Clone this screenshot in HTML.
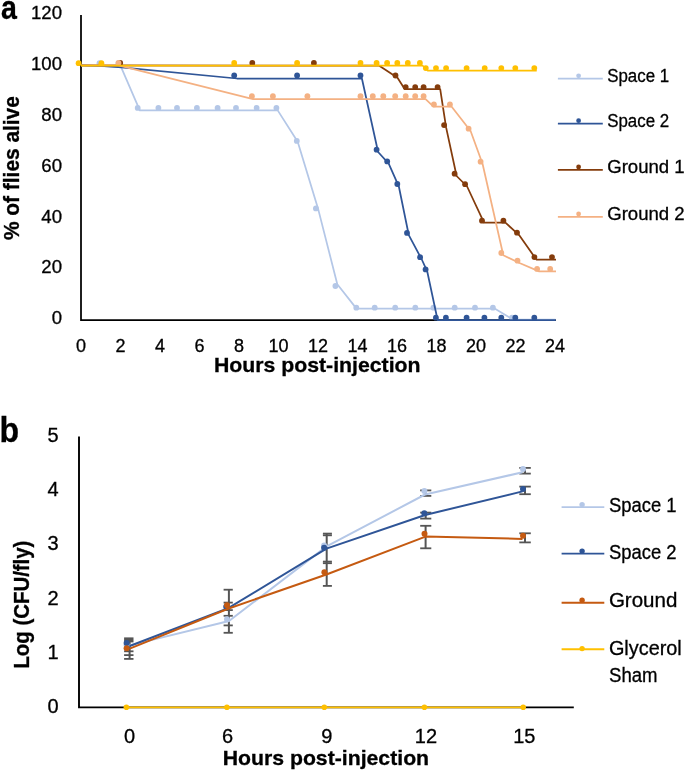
<!DOCTYPE html><html><head><meta charset="utf-8"><style>html,body{margin:0;padding:0;background:#fff;}svg{display:block;will-change:transform;}text{font-family:"Liberation Sans",sans-serif;fill:#000;stroke:#000;stroke-width:0.3px;font-variant-ligatures:none;}</style></head><body>
<svg width="685" height="770" viewBox="0 0 685 770">
<rect width="685" height="770" fill="#fff"/>
<text transform="translate(1,18.8) scale(0.88,1)" x="0" y="0" font-size="32.5" font-weight="bold">a</text>
<path d="M81,15 V320 H556" fill="none" stroke="#000" stroke-width="1.75"/>
<text x="62" y="19.1" font-size="18" text-anchor="end" textLength="31.0" lengthAdjust="spacingAndGlyphs">120</text>
<text x="62" y="70.0" font-size="18" text-anchor="end" textLength="31.0" lengthAdjust="spacingAndGlyphs">100</text>
<text x="62" y="120.9" font-size="18" text-anchor="end" textLength="20.7" lengthAdjust="spacingAndGlyphs">80</text>
<text x="62" y="171.7" font-size="18" text-anchor="end" textLength="20.7" lengthAdjust="spacingAndGlyphs">60</text>
<text x="62" y="222.6" font-size="18" text-anchor="end" textLength="20.7" lengthAdjust="spacingAndGlyphs">40</text>
<text x="62" y="273.4" font-size="18" text-anchor="end" textLength="20.7" lengthAdjust="spacingAndGlyphs">20</text>
<text x="62" y="324.3" font-size="18" text-anchor="end" textLength="10.3" lengthAdjust="spacingAndGlyphs">0</text>
<text x="81.0" y="351.8" font-size="18" text-anchor="middle">0</text>
<text x="120.5" y="351.8" font-size="18" text-anchor="middle">2</text>
<text x="160.0" y="351.8" font-size="18" text-anchor="middle">4</text>
<text x="199.5" y="351.8" font-size="18" text-anchor="middle">6</text>
<text x="239.0" y="351.8" font-size="18" text-anchor="middle">8</text>
<text x="278.5" y="351.8" font-size="18" text-anchor="middle">10</text>
<text x="318.0" y="351.8" font-size="18" text-anchor="middle">12</text>
<text x="357.5" y="351.8" font-size="18" text-anchor="middle">14</text>
<text x="397.0" y="351.8" font-size="18" text-anchor="middle">16</text>
<text x="436.5" y="351.8" font-size="18" text-anchor="middle">18</text>
<text x="476.0" y="351.8" font-size="18" text-anchor="middle">20</text>
<text x="515.5" y="351.8" font-size="18" text-anchor="middle">22</text>
<text x="555.0" y="351.8" font-size="18" text-anchor="middle">24</text>
<text x="214" y="372.1" font-size="21" font-weight="bold" textLength="206.5" lengthAdjust="spacingAndGlyphs">Hours post-injection</text>
<text transform="translate(18.9,240) rotate(-90) scale(1,1.07)" x="0" y="0" font-size="21" font-weight="bold" textLength="143.8" lengthAdjust="spacingAndGlyphs">% of flies alive</text>
<path d="M81.0,65.4 L121.0,66.8 L139.8,110.4 L277.7,110.4 L297.7,141.8 L318.0,208.4 L337.3,284.2 L356.5,308.6 L494.6,308.6 L513.0,319.6 L555.5,319.6" fill="none" stroke="#B4C7E7" stroke-width="1.75" stroke-linejoin="round"/>
<circle cx="99.5" cy="63.2" r="2.9" fill="#B4C7E7"/>
<circle cx="118.5" cy="63.2" r="2.9" fill="#B4C7E7"/>
<circle cx="137.7" cy="107.9" r="2.9" fill="#B4C7E7"/>
<circle cx="158.4" cy="107.9" r="2.9" fill="#B4C7E7"/>
<circle cx="177.0" cy="107.9" r="2.9" fill="#B4C7E7"/>
<circle cx="196.9" cy="107.9" r="2.9" fill="#B4C7E7"/>
<circle cx="217.6" cy="107.9" r="2.9" fill="#B4C7E7"/>
<circle cx="236.0" cy="107.9" r="2.9" fill="#B4C7E7"/>
<circle cx="256.6" cy="107.9" r="2.9" fill="#B4C7E7"/>
<circle cx="276.4" cy="107.9" r="2.9" fill="#B4C7E7"/>
<circle cx="296.8" cy="140.9" r="2.9" fill="#B4C7E7"/>
<circle cx="315.9" cy="208.4" r="2.9" fill="#B4C7E7"/>
<circle cx="335.4" cy="286.0" r="2.9" fill="#B4C7E7"/>
<circle cx="356.3" cy="307.7" r="2.9" fill="#B4C7E7"/>
<circle cx="374.7" cy="307.7" r="2.9" fill="#B4C7E7"/>
<circle cx="395.2" cy="307.7" r="2.9" fill="#B4C7E7"/>
<circle cx="415.3" cy="307.7" r="2.9" fill="#B4C7E7"/>
<circle cx="433.4" cy="307.7" r="2.9" fill="#B4C7E7"/>
<circle cx="454.7" cy="307.7" r="2.9" fill="#B4C7E7"/>
<circle cx="475.0" cy="307.7" r="2.9" fill="#B4C7E7"/>
<circle cx="492.9" cy="307.7" r="2.9" fill="#B4C7E7"/>
<circle cx="512.0" cy="317.7" r="2.9" fill="#B4C7E7"/>
<path d="M81.0,65.4 L101.0,65.9 L121.5,67.4 L236.9,78.5 L361.9,78.5 L378.1,152.0 L388.7,163.7 L398.8,186.3 L408.8,235.2 L421.8,259.5 L427.3,271.7 L437.6,320.0 L555.7,320.0" fill="none" stroke="#2F5597" stroke-width="1.75" stroke-linejoin="round"/>
<circle cx="234.2" cy="75.5" r="2.9" fill="#2F5597"/>
<circle cx="297.1" cy="75.5" r="2.9" fill="#2F5597"/>
<circle cx="360.5" cy="75.5" r="2.9" fill="#2F5597"/>
<circle cx="376.6" cy="149.7" r="2.9" fill="#2F5597"/>
<circle cx="387.2" cy="161.4" r="2.9" fill="#2F5597"/>
<circle cx="397.3" cy="184.0" r="2.9" fill="#2F5597"/>
<circle cx="407.0" cy="232.9" r="2.9" fill="#2F5597"/>
<circle cx="420.1" cy="257.2" r="2.9" fill="#2F5597"/>
<circle cx="425.6" cy="269.4" r="2.9" fill="#2F5597"/>
<circle cx="435.9" cy="317.7" r="2.9" fill="#2F5597"/>
<circle cx="445.9" cy="317.7" r="2.9" fill="#2F5597"/>
<circle cx="466.6" cy="317.7" r="2.9" fill="#2F5597"/>
<circle cx="484.4" cy="317.7" r="2.9" fill="#2F5597"/>
<circle cx="501.3" cy="317.7" r="2.9" fill="#2F5597"/>
<circle cx="515.3" cy="317.7" r="2.9" fill="#2F5597"/>
<circle cx="534.3" cy="317.7" r="2.9" fill="#2F5597"/>
<path d="M81.0,65.4 L378.9,65.6 L397.5,77.8 L404.8,89.2 L440.2,89.2 L446.1,127.4 L456.6,176.0 L467.1,186.5 L484.0,222.6 L505.4,222.6 L519.1,235.1 L536.4,259.6 L556.0,259.6" fill="none" stroke="#843C0C" stroke-width="1.75" stroke-linejoin="round"/>
<circle cx="120.2" cy="63.0" r="2.9" fill="#843C0C"/>
<circle cx="252.3" cy="62.9" r="2.9" fill="#843C0C"/>
<circle cx="313.9" cy="62.9" r="2.9" fill="#843C0C"/>
<circle cx="395.5" cy="75.5" r="2.9" fill="#843C0C"/>
<circle cx="405.7" cy="87.1" r="2.9" fill="#843C0C"/>
<circle cx="415.2" cy="87.1" r="2.9" fill="#843C0C"/>
<circle cx="423.6" cy="87.1" r="2.9" fill="#843C0C"/>
<circle cx="437.6" cy="87.1" r="2.9" fill="#843C0C"/>
<circle cx="444.1" cy="125.1" r="2.9" fill="#843C0C"/>
<circle cx="454.6" cy="173.7" r="2.9" fill="#843C0C"/>
<circle cx="465.1" cy="184.2" r="2.9" fill="#843C0C"/>
<circle cx="482.0" cy="220.7" r="2.9" fill="#843C0C"/>
<circle cx="503.4" cy="220.7" r="2.9" fill="#843C0C"/>
<circle cx="517.0" cy="232.7" r="2.9" fill="#843C0C"/>
<circle cx="534.4" cy="257.1" r="2.9" fill="#843C0C"/>
<circle cx="552.0" cy="257.1" r="2.9" fill="#843C0C"/>
<path d="M81.0,65.4 L118.5,65.4 L253.1,99.1 L425.6,99.1 L433.5,106.7 L451.7,106.7 L470.6,131.0 L482.6,164.0 L503.3,255.3 L519.5,263.0 L539.1,271.4 L556.0,271.4" fill="none" stroke="#F4B183" stroke-width="1.75" stroke-linejoin="round"/>
<circle cx="118.5" cy="63.0" r="2.9" fill="#F4B183"/>
<circle cx="251.9" cy="96.2" r="2.9" fill="#F4B183"/>
<circle cx="272.9" cy="96.2" r="2.9" fill="#F4B183"/>
<circle cx="307.4" cy="96.2" r="2.9" fill="#F4B183"/>
<circle cx="360.5" cy="96.2" r="2.9" fill="#F4B183"/>
<circle cx="372.8" cy="96.2" r="2.9" fill="#F4B183"/>
<circle cx="383.3" cy="96.2" r="2.9" fill="#F4B183"/>
<circle cx="395.2" cy="96.2" r="2.9" fill="#F4B183"/>
<circle cx="405.7" cy="96.2" r="2.9" fill="#F4B183"/>
<circle cx="415.2" cy="96.2" r="2.9" fill="#F4B183"/>
<circle cx="423.6" cy="96.2" r="2.9" fill="#F4B183"/>
<circle cx="433.9" cy="104.4" r="2.9" fill="#F4B183"/>
<circle cx="449.9" cy="104.4" r="2.9" fill="#F4B183"/>
<circle cx="468.6" cy="128.7" r="2.9" fill="#F4B183"/>
<circle cx="480.6" cy="161.7" r="2.9" fill="#F4B183"/>
<circle cx="501.3" cy="253.0" r="2.9" fill="#F4B183"/>
<circle cx="517.5" cy="260.7" r="2.9" fill="#F4B183"/>
<circle cx="537.1" cy="268.9" r="2.9" fill="#F4B183"/>
<circle cx="550.2" cy="268.9" r="2.9" fill="#F4B183"/>
<path d="M81.0,65.5 L422.5,65.5 L427.8,70.7 L536.7,70.7" fill="none" stroke="#FFC000" stroke-width="1.75" stroke-linejoin="round"/>
<circle cx="78.6" cy="63.2" r="2.9" fill="#FFC000"/>
<circle cx="101.4" cy="63.2" r="2.9" fill="#FFC000"/>
<circle cx="234.2" cy="62.9" r="2.9" fill="#FFC000"/>
<circle cx="297.1" cy="62.9" r="2.9" fill="#FFC000"/>
<circle cx="360.5" cy="62.9" r="2.9" fill="#FFC000"/>
<circle cx="376.6" cy="62.9" r="2.9" fill="#FFC000"/>
<circle cx="387.1" cy="62.9" r="2.9" fill="#FFC000"/>
<circle cx="397.3" cy="62.9" r="2.9" fill="#FFC000"/>
<circle cx="407.8" cy="62.9" r="2.9" fill="#FFC000"/>
<circle cx="419.9" cy="62.9" r="2.9" fill="#FFC000"/>
<circle cx="425.8" cy="68.1" r="2.9" fill="#FFC000"/>
<circle cx="436.0" cy="68.1" r="2.9" fill="#FFC000"/>
<circle cx="446.1" cy="68.1" r="2.9" fill="#FFC000"/>
<circle cx="466.6" cy="68.1" r="2.9" fill="#FFC000"/>
<circle cx="484.7" cy="68.1" r="2.9" fill="#FFC000"/>
<circle cx="501.3" cy="68.1" r="2.9" fill="#FFC000"/>
<circle cx="515.3" cy="68.1" r="2.9" fill="#FFC000"/>
<circle cx="534.3" cy="68.1" r="2.9" fill="#FFC000"/>
<path d="M557.9,78.7 H602.8" stroke="#B4C7E7" stroke-width="1.75"/>
<circle cx="578.6" cy="75.8" r="2.4" fill="#B4C7E7"/>
<text x="607.2" y="81.6" font-size="18" textLength="62" lengthAdjust="spacingAndGlyphs">Space 1</text>
<path d="M557.9,123.6 H602.8" stroke="#2F5597" stroke-width="1.75"/>
<circle cx="578.6" cy="120.7" r="2.4" fill="#2F5597"/>
<text x="607.2" y="126.5" font-size="18" textLength="62" lengthAdjust="spacingAndGlyphs">Space 2</text>
<path d="M557.9,169.9 H602.8" stroke="#843C0C" stroke-width="1.75"/>
<circle cx="578.6" cy="167.0" r="2.4" fill="#843C0C"/>
<text x="607.2" y="172.8" font-size="18" textLength="77.5" lengthAdjust="spacingAndGlyphs">Ground 1</text>
<path d="M557.9,216.9 H602.8" stroke="#F4B183" stroke-width="1.75"/>
<circle cx="578.6" cy="214.0" r="2.4" fill="#F4B183"/>
<text x="607.2" y="219.8" font-size="18" textLength="77.5" lengthAdjust="spacingAndGlyphs">Ground 2</text>
<text transform="translate(-0.5,441.8) scale(0.93,1)" x="0" y="0" font-size="34.5" font-weight="bold">b</text>
<path d="M79,436.4 V707.4 H573.8" fill="none" stroke="#000" stroke-width="1.9"/>
<text x="58.5" y="713.0" font-size="20" text-anchor="end">0</text>
<text x="58.5" y="658.8" font-size="20" text-anchor="end">1</text>
<text x="58.5" y="604.6" font-size="20" text-anchor="end">2</text>
<text x="58.5" y="550.4" font-size="20" text-anchor="end">3</text>
<text x="58.5" y="496.2" font-size="20" text-anchor="end">4</text>
<text x="58.5" y="442.0" font-size="20" text-anchor="end">5</text>
<text x="129.5" y="743" font-size="20" text-anchor="middle">0</text>
<text x="227.6" y="743" font-size="20" text-anchor="middle">6</text>
<text x="326.9" y="743" font-size="20" text-anchor="middle">9</text>
<text x="425.9" y="743" font-size="20" text-anchor="middle">12</text>
<text x="524.3" y="743" font-size="20" text-anchor="middle">15</text>
<text x="222.7" y="764.5" font-size="21" font-weight="bold" textLength="206.4" lengthAdjust="spacingAndGlyphs">Hours post-injection</text>
<text transform="translate(29,668.6) rotate(-90) scale(1,1.07)" x="0" y="0" font-size="21" font-weight="bold" textLength="128" lengthAdjust="spacingAndGlyphs">Log (CFU/fly)</text>
<rect x="124.1" y="637.4" width="9.4" height="5" fill="#555555"/>
<path d="M129.6,640 V659" stroke="#555555" stroke-width="2"/>
<path d="M124.1,651.3 H133.5" stroke="#555555" stroke-width="1.8"/>
<path d="M124.1,655.1 H133.5" stroke="#555555" stroke-width="1.8"/>
<path d="M124.1,658.9 H133.5" stroke="#555555" stroke-width="1.8"/>
<path d="M228.9,589.7 V632.8" stroke="#555555" stroke-width="2"/>
<path d="M223.6,589.7 H232.8" stroke="#555555" stroke-width="1.8"/>
<path d="M223.6,602.6 H232.8" stroke="#555555" stroke-width="1.8"/>
<path d="M223.6,610.1 H232.8" stroke="#555555" stroke-width="1.8"/>
<path d="M223.6,615.8 H232.8" stroke="#555555" stroke-width="1.8"/>
<path d="M223.6,625.4 H232.8" stroke="#555555" stroke-width="1.8"/>
<path d="M223.6,632.8 H232.8" stroke="#555555" stroke-width="1.8"/>
<path d="M326.7,533.6 V586" stroke="#555555" stroke-width="2"/>
<path d="M322.9,533.6 H331.9" stroke="#555555" stroke-width="1.8"/>
<path d="M322.9,535.3 H331.9" stroke="#555555" stroke-width="1.8"/>
<path d="M322.9,561.6 H331.9" stroke="#555555" stroke-width="1.8"/>
<path d="M322.9,563.2 H331.9" stroke="#555555" stroke-width="1.8"/>
<path d="M322.9,585.9 H331.9" stroke="#555555" stroke-width="1.8"/>
<path d="M425.7,490.4 V495.9" stroke="#555555" stroke-width="2"/>
<path d="M420.2,490.4 H431.3" stroke="#555555" stroke-width="1.8"/>
<path d="M420.2,495.9 H431.3" stroke="#555555" stroke-width="1.8"/>
<path d="M425.7,512.6 V518.6" stroke="#555555" stroke-width="2"/>
<path d="M420.2,512.6 H431.3" stroke="#555555" stroke-width="1.8"/>
<path d="M420.2,518.6 H431.3" stroke="#555555" stroke-width="1.8"/>
<path d="M425.6,525.8 V548.3" stroke="#555555" stroke-width="2"/>
<path d="M420.2,525.8 H431.3" stroke="#555555" stroke-width="1.8"/>
<path d="M420.2,548.3 H431.3" stroke="#555555" stroke-width="1.8"/>
<path d="M525,467.9 V473.6" stroke="#555555" stroke-width="2"/>
<path d="M519.3,467.9 H530.8" stroke="#555555" stroke-width="1.8"/>
<path d="M519.3,473.6 H530.8" stroke="#555555" stroke-width="1.8"/>
<path d="M525,486.6 V494.2" stroke="#555555" stroke-width="2"/>
<path d="M519.3,486.6 H530.8" stroke="#555555" stroke-width="1.8"/>
<path d="M519.3,494.2 H530.8" stroke="#555555" stroke-width="1.8"/>
<path d="M525,533.3 V542.4" stroke="#555555" stroke-width="2"/>
<path d="M519.3,533.3 H530.8" stroke="#555555" stroke-width="1.8"/>
<path d="M519.3,542.4 H530.8" stroke="#555555" stroke-width="1.8"/>
<path d="M129.7,645.4 L229.0,621.0 L326.6,546.4 L425.1,494.5 L522.5,472.3" fill="none" stroke="#B4C7E7" stroke-width="2" stroke-linejoin="round"/>
<circle cx="126.6" cy="645.0" r="3" fill="#B4C7E7"/>
<circle cx="227.0" cy="619.3" r="3" fill="#B4C7E7"/>
<circle cx="324.1" cy="545.5" r="3" fill="#B4C7E7"/>
<circle cx="424.4" cy="490.9" r="3" fill="#B4C7E7"/>
<circle cx="523.0" cy="468.9" r="3" fill="#B4C7E7"/>
<path d="M129.7,646.0 L228.3,608.2 L326.4,548.6 L425.1,515.0 L522.5,491.4" fill="none" stroke="#2F5597" stroke-width="2" stroke-linejoin="round"/>
<circle cx="126.6" cy="643.1" r="3" fill="#2F5597"/>
<circle cx="226.2" cy="606.8" r="3" fill="#2F5597"/>
<circle cx="324.1" cy="547.7" r="3" fill="#2F5597"/>
<circle cx="424.3" cy="513.3" r="3" fill="#2F5597"/>
<circle cx="523.0" cy="489.1" r="3" fill="#2F5597"/>
<path d="M129.7,648.6 L228.0,608.7 L326.4,574.5 L425.5,536.6 L522.5,538.9" fill="none" stroke="#C55A11" stroke-width="2" stroke-linejoin="round"/>
<circle cx="126.6" cy="648.3" r="3" fill="#C55A11"/>
<circle cx="227.0" cy="605.3" r="3" fill="#C55A11"/>
<circle cx="324.4" cy="572.3" r="3" fill="#C55A11"/>
<circle cx="424.5" cy="533.7" r="3" fill="#C55A11"/>
<circle cx="523.0" cy="535.8" r="3" fill="#C55A11"/>
<path d="M126.4,707.3 L523.4,707.3" fill="none" stroke="#FFC000" stroke-width="1.8" stroke-linejoin="round"/>
<circle cx="126.4" cy="707.2" r="2.8" fill="#FFC000"/>
<circle cx="226.9" cy="707.2" r="2.8" fill="#FFC000"/>
<circle cx="324.3" cy="707.2" r="2.8" fill="#FFC000"/>
<circle cx="424.4" cy="707.2" r="2.8" fill="#FFC000"/>
<circle cx="523.2" cy="707.2" r="2.8" fill="#FFC000"/>
<path d="M561.6,507.1 H604.3" stroke="#B4C7E7" stroke-width="1.9"/>
<circle cx="582.1" cy="504.6" r="2.7" fill="#B4C7E7"/>
<text x="608.9" y="511.6" font-size="19.5" textLength="67.6" lengthAdjust="spacingAndGlyphs">Space 1</text>
<path d="M561.6,553.6 H604.3" stroke="#2F5597" stroke-width="1.9"/>
<circle cx="582.1" cy="551.1" r="2.7" fill="#2F5597"/>
<text x="608.9" y="559.2" font-size="19.5" textLength="67.6" lengthAdjust="spacingAndGlyphs">Space 2</text>
<path d="M561.6,602.8 H604.3" stroke="#C55A11" stroke-width="1.9"/>
<circle cx="582.1" cy="600.3" r="2.7" fill="#C55A11"/>
<text x="608.9" y="607.2" font-size="19.5" textLength="68.5" lengthAdjust="spacingAndGlyphs">Ground</text>
<path d="M561.6,649.3 H604.3" stroke="#FFC000" stroke-width="1.9"/>
<circle cx="582.1" cy="648.6" r="2.7" fill="#FFC000"/>
<text x="608.9" y="655.1" font-size="19.5" textLength="72.89999999999999" lengthAdjust="spacingAndGlyphs">Glycerol</text>
<text x="609" y="682.3" font-size="19.5" textLength="48.5" lengthAdjust="spacingAndGlyphs">Sham</text>
</svg></body></html>
